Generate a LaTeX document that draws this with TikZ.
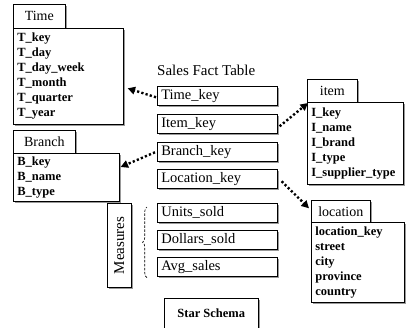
\documentclass[tikz,border=0pt]{standalone}
\usepackage{fontspec}
\setmainfont{Liberation Serif}
\usetikzlibrary{arrows.meta,shadows,decorations.pathreplacing,calc}

\begin{document}
\begin{tikzpicture}[x=1pt,y=-1pt,
  box/.style={draw, line width=0.6pt, fill=white, inner sep=0pt,
    drop shadow={shadow xshift=1.3pt, shadow yshift=-1.3pt, opacity=1, fill=black!40}},
  tabbox/.style={box, anchor=north west, font=\fontsize{14}{16}\selectfont},
  dimbody/.style={box, anchor=north west, align=left, inner xsep=4pt,
    font=\fontsize{12.5}{15}\selectfont\bfseries},
  factrow/.style={box, anchor=north west, minimum width=120pt, minimum height=19pt,
    text width=112pt, inner xsep=4pt, align=left, font=\fontsize{14.5}{16}\selectfont},
  link/.style={line width=2.4pt, dash pattern=on 2.2pt off 2.2pt,
    -{Triangle[length=7.5pt,width=7.5pt]}},
]
\clip (0,0) rectangle (406,327);

% Time dimension
\node[tabbox, minimum width=52pt, minimum height=24pt] (timetab) at (13,4) {Time};
\node[dimbody, text width=102pt, minimum height=96pt] (timebody) at (13,28)
  {T\_key\\T\_day\\T\_day\_week\\T\_month\\T\_quarter\\T\_year};

% Branch dimension
\node[tabbox, minimum width=62pt, minimum height=23pt] (branchtab) at (13,130) {Branch};
\node[dimbody, text width=98pt, minimum height=48pt] (branchbody) at (13,153)
  {B\_key\\B\_name\\B\_type};

% item dimension
\node[tabbox, minimum width=50pt, minimum height=23pt] (itemtab) at (307,79) {item};
\node[dimbody, text width=88pt, minimum height=82pt] (itembody) at (307,102)
  {I\_key\\I\_name\\I\_brand\\I\_type\\I\_supplier\_type};

% location dimension
\node[tabbox, minimum width=59pt, minimum height=22pt] (loctab) at (311,200) {location};
\node[dimbody, text width=85pt, minimum height=80pt] (locbody) at (311,222)
  {location\_key\\street\\city\\province\\country};

% Fact table
\node[anchor=west, inner sep=0pt, font=\fontsize{15}{18}\selectfont] (facttitle) at (157,70) {Sales Fact Table};
\node[factrow] (timekey) at (157,86) {Time\_key};
\node[factrow] (itemkey) at (157,114) {Item\_key};
\node[factrow] (branchkey) at (157,142) {Branch\_key};
\node[factrow] (lockey) at (157,169) {Location\_key};
\node[factrow] (units) at (157,203) {Units\_sold};
\node[factrow] (dollars) at (157,230) {Dollars\_sold};
\node[factrow] (avg) at (157,257) {Avg\_sales};

% Measures label and brace
\node[box, anchor=north west, minimum width=24pt, minimum height=84pt,
  font=\fontsize{15}{18}\selectfont] (measures) at (107,203) {\rotatebox{90}{Measures}};
\draw[dash pattern=on 2.5pt off 1.5pt, line width=0.6pt, decorate,
  decoration={brace, amplitude=4.5pt}]
  ($(avg.south west)+(-10,1)$) coordinate (bracebot)
  -- ($(units.north west)+(-10,4)$) coordinate (bracetop);

% Caption
\node[box, anchor=north west, minimum width=94pt, minimum height=30pt,
  font=\fontsize{12.5}{15}\selectfont\bfseries] (caption) at (164,298) {Star Schema};

% Foreign key links
\draw[link] ($(timekey.west)+(-1,1.5)$) -- ($(timebody.east)+(4,12)$);
\draw[link] ($(branchkey.west)+(-2,0.5)$) -- ($(branchbody.north east)+(1,14)$);
\draw[link] ($(itemkey.east)+(2,2.5)$) -- ($(itembody.north west)+(1,1)$);
\draw[link] ($(lockey.east)+(4,2.5)$) -- ($(loctab.west)+(-2,-3)$);
\end{tikzpicture}
\end{document}
